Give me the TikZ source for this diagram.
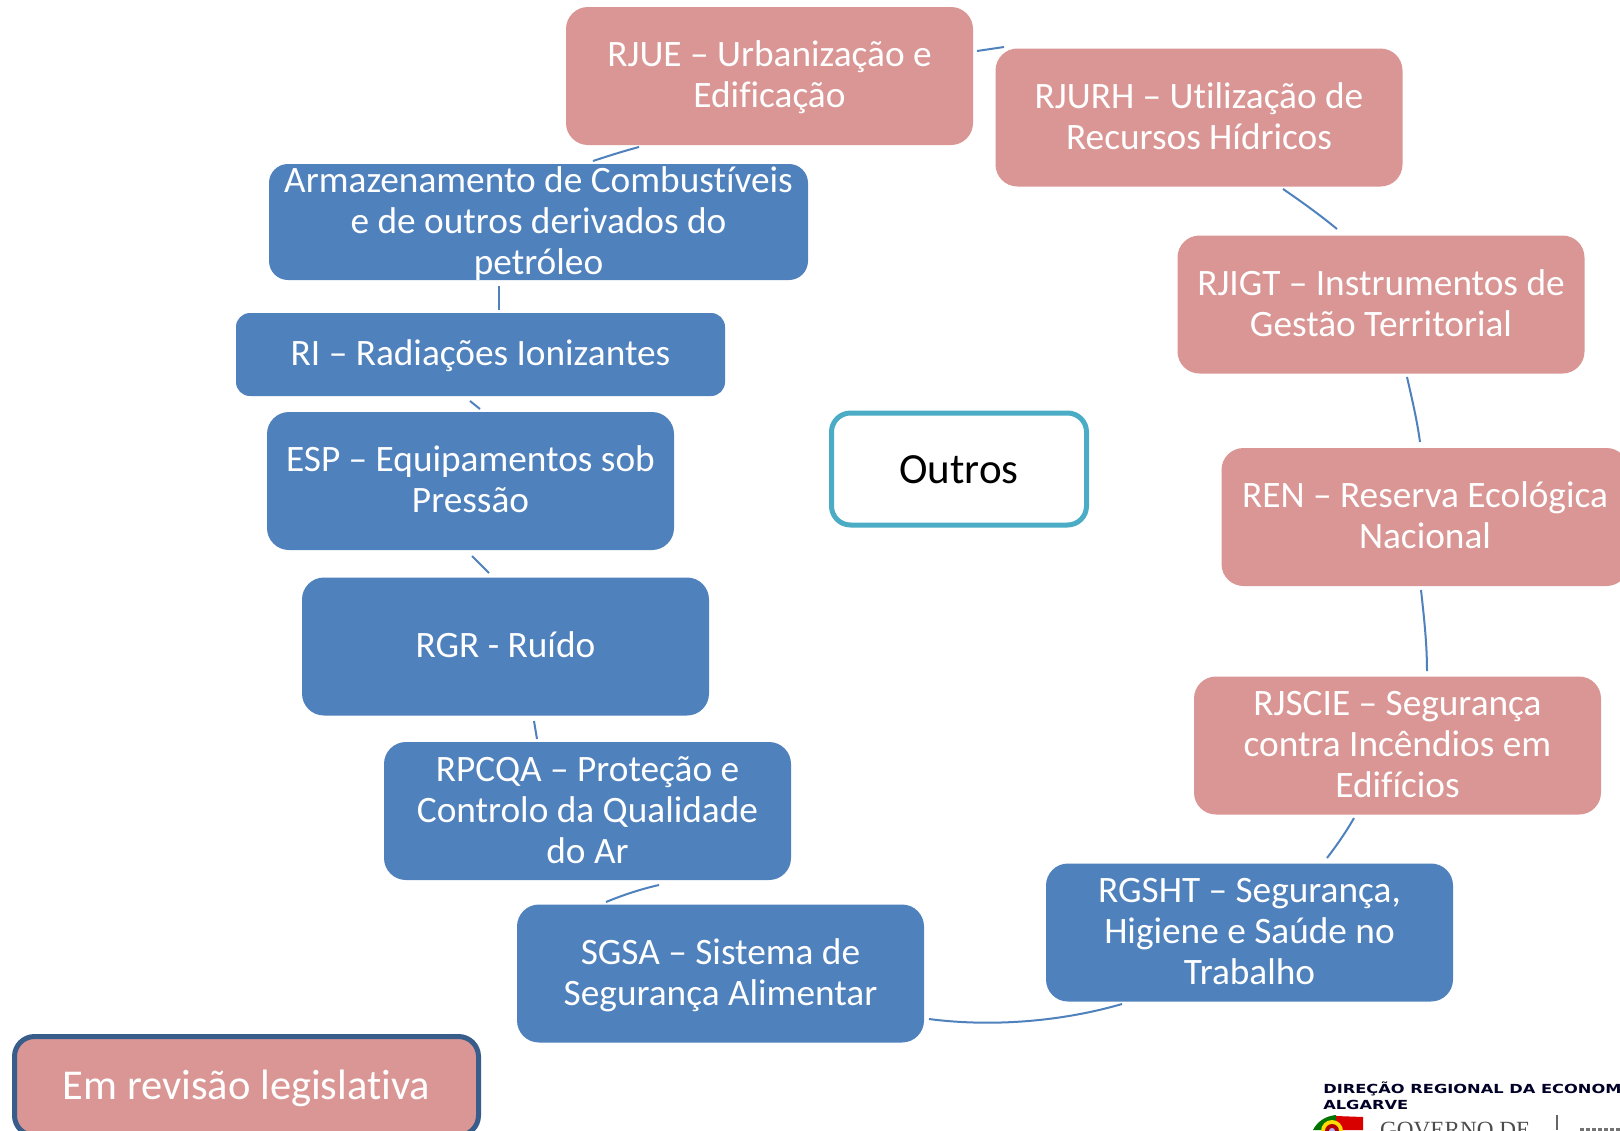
\documentclass[tikz,border=0pt]{standalone}
\usepackage{fontspec}
\setmainfont[Ligatures=CommonOff]{Carlito}
\newfontfamily\logofont{DejaVu Sans}
\newfontfamily\logoserif{Liberation Serif}
\definecolor{pinkfill}{HTML}{D99694}
\definecolor{bluefill}{HTML}{4F81BD}
\definecolor{tealline}{HTML}{4BACC6}
\definecolor{darkblueline}{HTML}{385D8A}
\newcommand{\LN}{\strut}
\newcommand{\FL}{\rule{0pt}{34.7pt}\strut}
\tikzset{
  x=1pt,y=-1pt,
  basebox/.style={rounded corners=22pt,inner sep=0pt,outer sep=0pt,align=center,text=white,
    font=\fontsize{37.3}{41}\selectfont,minimum width=407pt,minimum height=138pt},
  pinkbox/.style={basebox,fill=pinkfill},
  bluebox/.style={basebox,fill=bluefill},
  link/.style={draw=bluefill,line width=2pt},
  logotext/.style={inner sep=0pt,anchor=west,text=black!85!blue,xscale=1.3,font=\logofont\bfseries\fontsize{12.5}{14}\selectfont}
}
\begin{document}
\begin{tikzpicture}
\useasboundingbox (0,0) rectangle (1620,1130);
\clip (0,0) rectangle (1620,1130);
\fill[white] (0,0) rectangle (1620,1130);
% pink
\node[pinkbox] (rjue) at (769.5,76) {\FL RJUE – Urbanização e\\\LN Edificação};
\node[pinkbox] (rjurh) at (1199,117.5) {\FL RJURH – Utilização de\\\LN Recursos Hídricos};
\node[pinkbox] (rjigt) at (1381,304.5) {\FL RJIGT – Instrumentos de\\\LN Gestão Territorial};
\node[pinkbox] (ren) at (1425,517) {\FL REN – Reserva Ecológica\\\LN Nacional};
\node[pinkbox] (rjscie) at (1397.5,745.5) {\FL RJSCIE – Segurança\\\LN contra Incêndios em\\\LN Edifícios};
% blue
\node[bluebox] (rgsht) at (1249.5,932.5) {\FL RGSHT – Segurança,\\\LN Higiene e Saúde no\\\LN Trabalho};
\node[bluebox] (sgsa) at (720.5,973.5) {\FL SGSA – Sistema de\\\LN Segurança Alimentar};
\node[bluebox] (rpcqa) at (587.5,811) {\FL RPCQA – Proteção e\\\LN Controlo da Qualidade\\\LN do Ar};
\node[bluebox] (rgr) at (505.5,646.5) {\FL RGR - Ruído};
\node[bluebox] (esp) at (470.5,481) {\FL ESP – Equipamentos sob\\\LN Pressão};
\node[bluebox,minimum width=489pt,minimum height=83pt,rounded corners=14pt] (ri) at (480.5,354.5) {\FL RI – Radiações Ionizantes};
\node[bluebox,minimum width=539pt,minimum height=116pt,rounded corners=19pt] (arm) at (538.5,222) {};
\node[basebox,minimum width=0pt,minimum height=0pt,fill=none] (armtext) at (arm.center) {\FL Armazenamento de Combustíveis\\\LN e de outros derivados do\\\LN petróleo};
% centre and legend
\node[draw=tealline,line width=5pt,fill=white,rounded corners=19pt,minimum width=255pt,minimum height=112pt,
  inner sep=0pt,font=\fontsize{43}{48}\selectfont,text=black] (outros) at (959,469) {\rule{0pt}{43.6pt}\strut Outros};
\node[draw=darkblueline,line width=5pt,fill=pinkfill,rounded corners=20pt,minimum width=464pt,minimum height=99pt,
  inner sep=0pt,font=\fontsize{42.5}{48}\selectfont,text=white] (rev) at (246.5,1086) {\rule{0pt}{41.6pt}\strut Em revisão legislativa};
% connector ends
\coordinate (a1) at (977,51);  \coordinate (b1) at (1004,47);
\coordinate (a2) at (1283,189); \coordinate (b2) at (1337,229);
\coordinate (a3) at (1407,377); \coordinate (b3) at (1420,442);
\coordinate (a4) at (1421,590); \coordinate (b4) at (1427,671);
\coordinate (a5) at (1354,818); \coordinate (b5) at (1327,858);
\coordinate (a6) at (1122,1004); \coordinate (b6) at (929,1019);
\coordinate (a7) at (659,885); \coordinate (b7) at (606,902);
\coordinate (a8) at (534,721); \coordinate (b8) at (537,739);
\coordinate (a9) at (472,556); \coordinate (b9) at (489,573);
\coordinate (a10) at (470,401); \coordinate (b10) at (480,409);
\coordinate (a11) at (499,286); \coordinate (b11) at (499,310);
\coordinate (a12) at (639,147); \coordinate (b12) at (593,161);
\draw[link] (a1) -- (b1);
\draw[link] (a2) .. controls (1302,202) and (1320,215) .. (b2);
\draw[link] (a3) .. controls (1412,399) and (1417,420) .. (b3);
\draw[link] (a4) .. controls (1424,617) and (1427,644) .. (b4);
\draw[link] (a5) .. controls (1346,832) and (1337,845) .. (b5);
\draw[link] (a6) .. controls (1060,1022) and (990,1027) .. (b6);
\draw[link] (a7) .. controls (641,889) and (623,895) .. (b7);
\draw[link] (a8) -- (b8);
\draw[link] (a9) -- (b9);
\draw[link] (a10) -- (b10);
\draw[link] (a11) -- (b11);
\draw[link] (a12) .. controls (624,151) and (608,156) .. (b12);
% logo
\node[logotext] (logoa) at (1323,1089) {DIREÇÃO REGIONAL DA ECONOM};
\node[logotext] (logob) at (1323,1105) {ALGARVE};
\node[inner sep=0pt,anchor=west,text=black!70,font=\logoserif\fontsize{23.2}{28}\selectfont] (gov) at (1380,1130) {GOVERNO DE};
\fill[green!45!black] (1313,1130) .. controls (1317,1122) and (1325,1116) .. (1336,1115) -- (1336,1130) -- cycle;
\fill[red!85!black] (1336,1116) -- (1363,1117) -- (1363,1130) -- (1336,1130) -- cycle;
\fill[yellow!80!orange] (1332,1131) circle[radius=11];
\fill[red!70!black] (1332,1131) circle[radius=7];
\fill[blue!30!white] (1332,1131) circle[radius=3];
\draw[black!60,line width=2pt] (1557,1115) -- (1557,1130);
\draw[black!55,line width=3pt,dash pattern=on 4pt off 2pt] (1580,1129) -- (1620,1129);
\end{tikzpicture}
\end{document}
